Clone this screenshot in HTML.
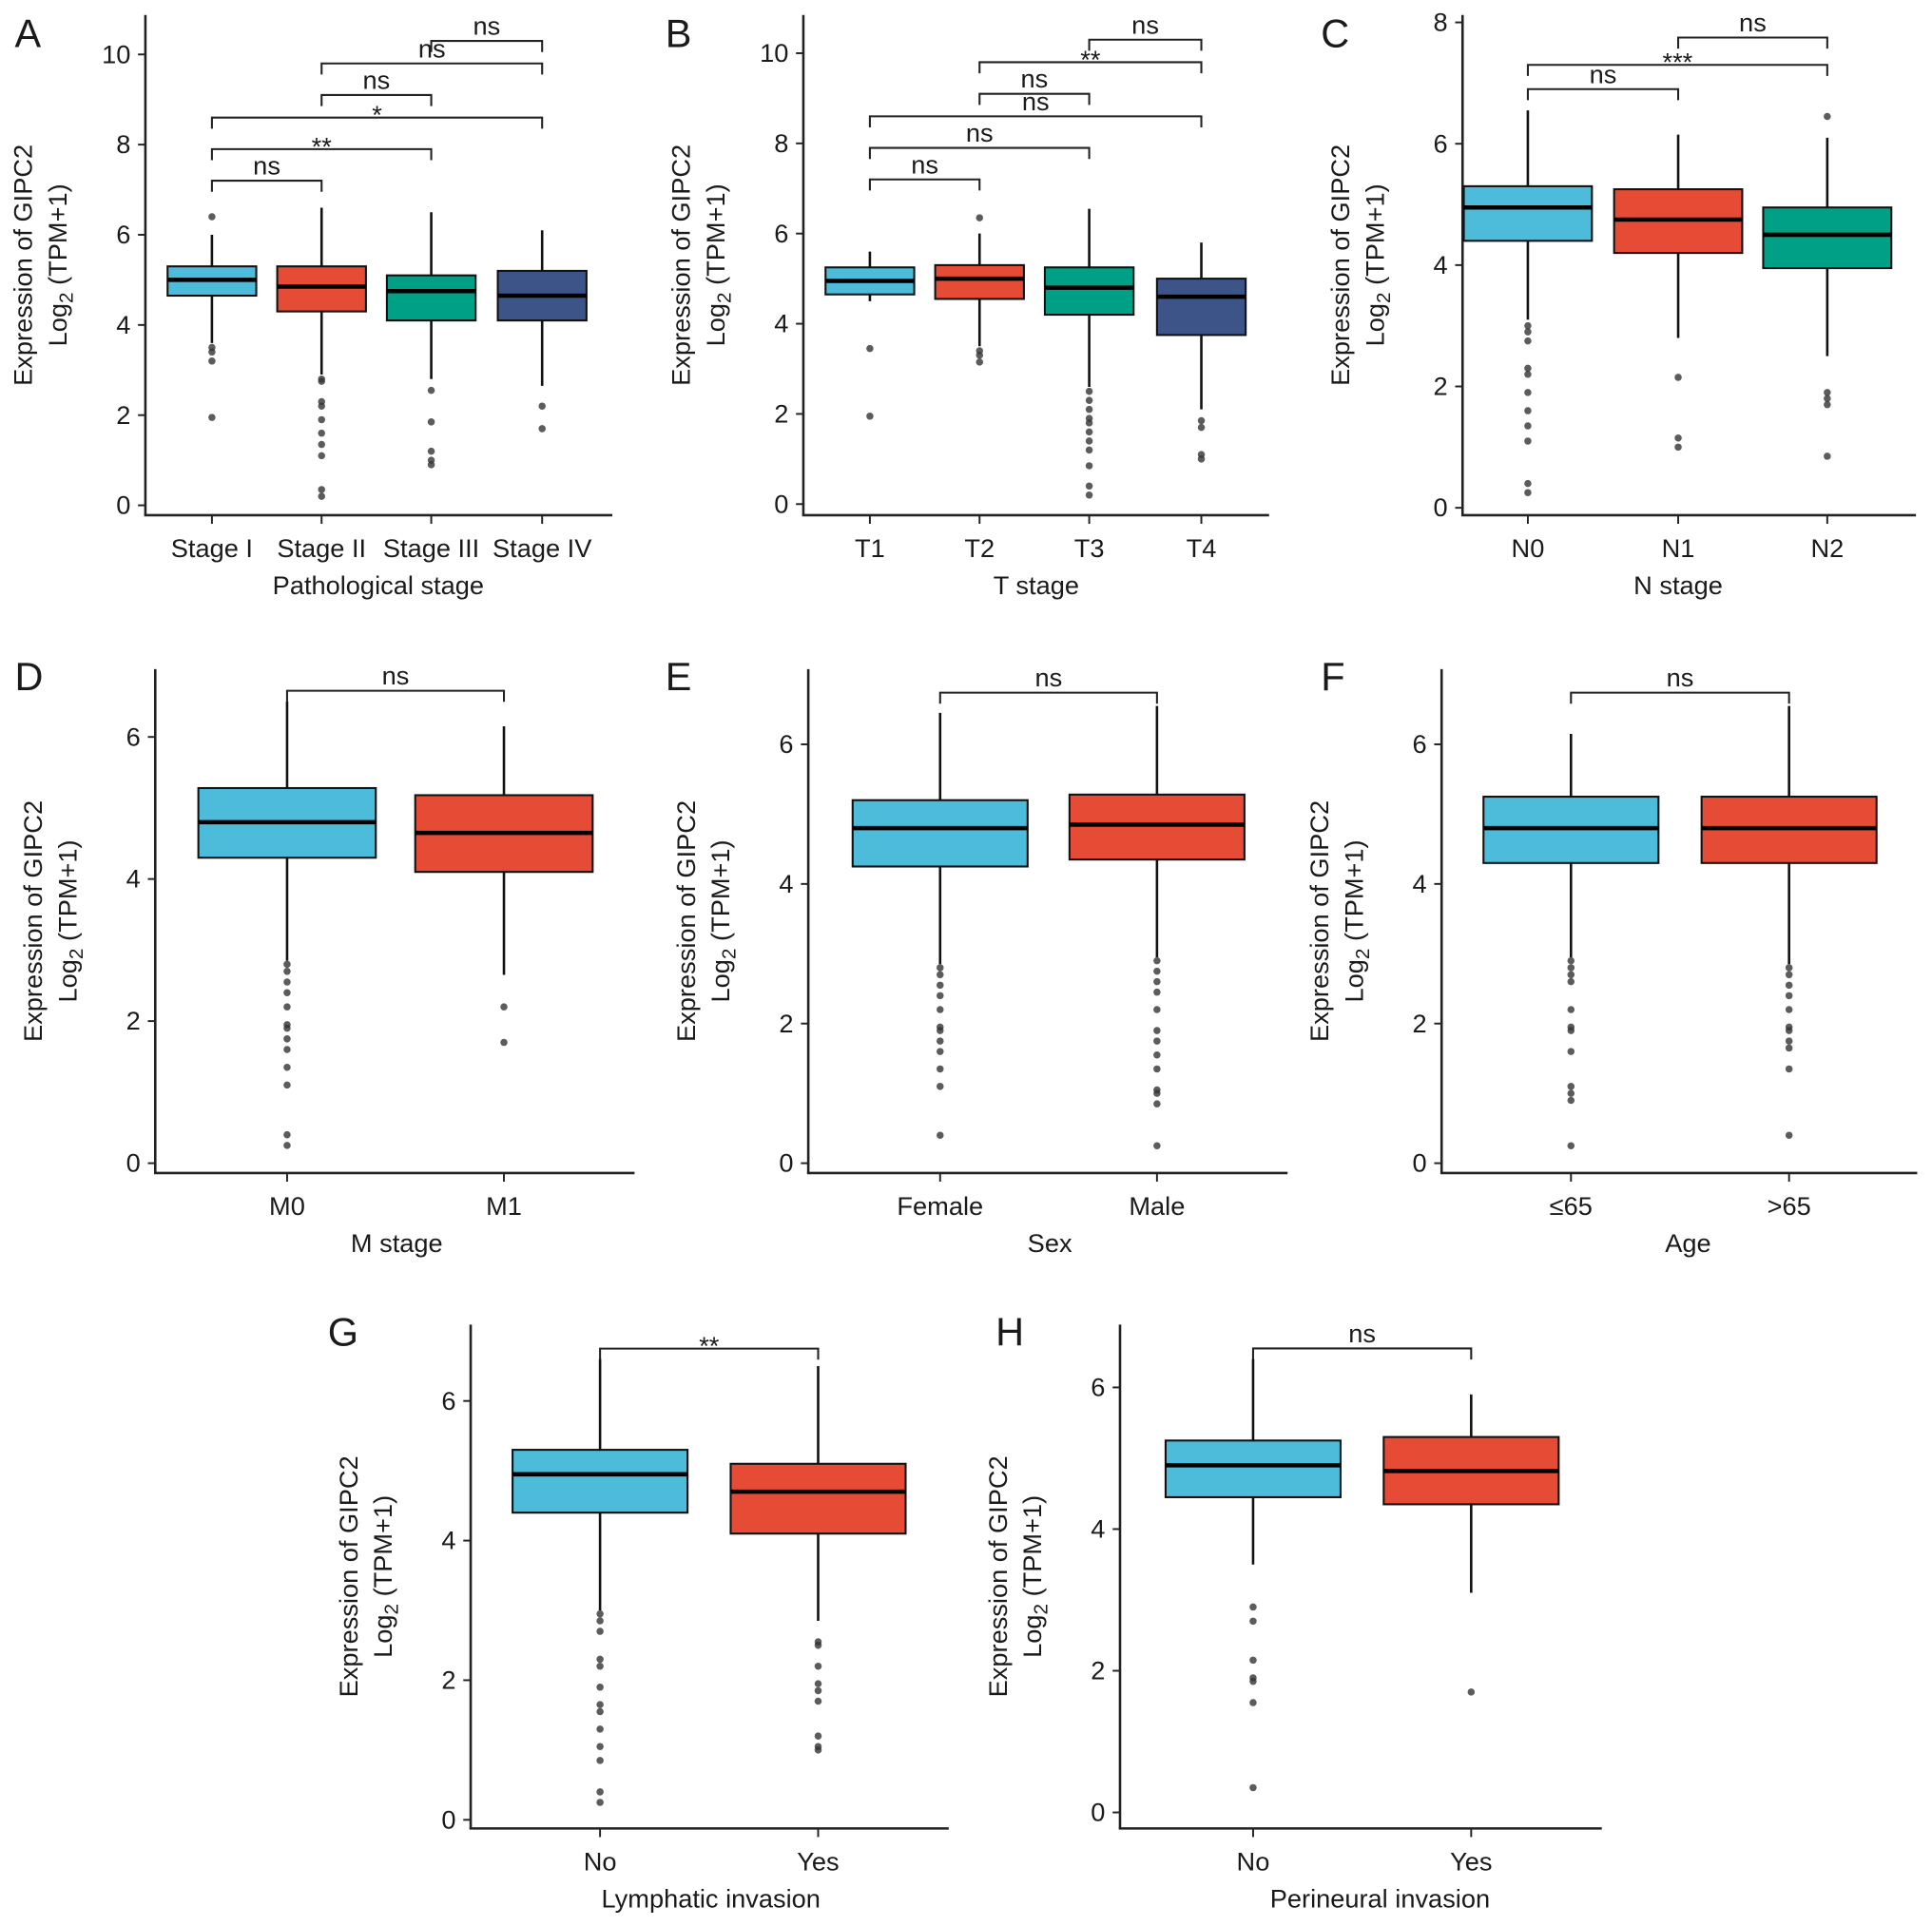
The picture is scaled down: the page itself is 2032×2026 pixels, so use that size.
<!DOCTYPE html>
<html><head><meta charset="utf-8"><style>
html,body{margin:0;padding:0;background:#fff}
svg{display:block}
text{font-family:"Liberation Sans",Arial,sans-serif;fill:#1a1a1a}
</style></head><body>
<svg id="fig" width="2032" height="2026" viewBox="0 0 1568 1563" xmlns="http://www.w3.org/2000/svg"></svg>
<script>
// ---- data ----
const catsA=["Stage I","Stage II","Stage III","Stage IV"];
const statsA=[[3.6,4.65,5.0,5.3,6.0],[2.9,4.3,4.85,5.3,6.6],[2.8,4.1,4.75,5.1,6.5],[2.65,4.1,4.65,5.2,6.1]];
const outA=[[6.4,3.5,3.4,3.2,1.95],[2.8,2.75,2.3,2.2,1.9,1.6,1.35,1.1,0.35,0.2],[2.55,1.85,1.2,1.0,0.9],[2.2,1.7]];
const brA=[[0,1,7.2,"ns"],[0,2,7.9,"**"],[0,3,8.6,"*"],[1,2,9.1,"ns"],[1,3,9.8,"ns"],[2,3,10.3,"ns"]];
const catsB=["T1","T2","T3","T4"];
const statsB=[[4.5,4.65,4.95,5.25,5.6],[3.5,4.55,5.0,5.3,6.0],[2.6,4.2,4.8,5.25,6.55],[2.1,3.75,4.6,5.0,5.8]];
const outB=[[3.45,1.95],[6.35,3.4,3.3,3.15],[2.5,2.3,2.1,1.9,1.8,1.6,1.4,1.2,0.85,0.4,0.2],[1.85,1.7,1.1,1.0]];
const brB=[[0,1,7.2,"ns"],[0,2,7.9,"ns"],[0,3,8.6,"ns"],[1,2,9.1,"ns"],[1,3,9.8,"**"],[2,3,10.3,"ns"]];
const catsC=["N0","N1","N2"];
const statsC=[[3.1,4.4,4.95,5.3,6.55],[2.8,4.2,4.75,5.25,6.15],[2.5,3.95,4.5,4.95,6.1]];
const outC=[[3.0,2.9,2.75,2.3,2.2,1.9,1.6,1.35,1.1,0.4,0.25],[2.15,1.15,1.0],[6.45,1.9,1.8,1.7,0.85]];
const brC=[[0,1,6.9,"ns"],[0,2,7.3,"***"],[1,2,7.75,"ns"]];
const catsD=["M0","M1"];
const statsD=[[2.85,4.3,4.8,5.28,6.5],[2.65,4.1,4.65,5.18,6.15]];
const outD=[[2.8,2.7,2.55,2.4,2.2,1.95,1.9,1.75,1.6,1.35,1.1,0.4,0.25],[2.2,1.7]];
const brD=[[0,1,6.65,"ns"]];
const catsE=["Female","Male"];
const statsE=[[2.85,4.25,4.8,5.2,6.45],[2.95,4.35,4.85,5.28,6.55]];
const outE=[[2.8,2.7,2.55,2.4,2.2,1.95,1.9,1.75,1.6,1.35,1.1,0.4],[2.9,2.75,2.6,2.45,2.2,1.9,1.75,1.55,1.35,1.05,1.0,0.85,0.25]];
const brE=[[0,1,6.74,"ns"]];
const catsF=["≤65",">65"];
const statsF=[[2.95,4.3,4.8,5.25,6.15],[2.85,4.3,4.8,5.25,6.55]];
const outF=[[2.9,2.8,2.7,2.6,2.2,1.95,1.9,1.6,1.1,1.0,0.9,0.25],[2.8,2.7,2.55,2.4,2.2,1.95,1.9,1.75,1.65,1.35,0.4]];
const brF=[[0,1,6.74,"ns"]];
const catsG=["No","Yes"];
const statsG=[[3.0,4.4,4.95,5.3,6.6],[2.85,4.1,4.7,5.1,6.5]];
const outG=[[2.95,2.85,2.7,2.3,2.2,1.9,1.65,1.55,1.3,1.05,0.85,0.4,0.25],[2.55,2.5,2.2,1.95,1.85,1.7,1.2,1.05,1.0]];
const brG=[[0,1,6.75,"**"]];
const catsH=["No","Yes"];
const statsH=[[3.5,4.45,4.9,5.25,6.4],[3.1,4.35,4.82,5.3,5.9]];
const outH=[[2.9,2.7,2.15,1.9,1.85,1.55,0.35],[1.7]];
const brH=[[0,1,6.55,"ns"]];
const ticks10=[0,2,4,6,8,10], ticks8=[0,2,4,6,8], ticks6=[0,2,4,6];
const COLORS=["#4cbcda","#e64b35","#00a087","#3c5488"];

const NS="http://www.w3.org/2000/svg";
const svg=document.getElementById('fig');
function mk(tag,attrs,parent,txt){const e=document.createElementNS(NS,tag);for(const k in attrs)e.setAttribute(k,attrs[k]);if(txt!==undefined)e.textContent=txt;(parent||svg).appendChild(e);return e;}

function panel(o){
  const g=mk('g',{});
  
  
  const y=v=>o.y0-(o.y0-o.yRef)*v/o.vRef;
  const x=i=>o.xs[i];
  const L=mk('text',{x:o.lx,y:o.ly,'font-size':32},g,o.letter);
  
  
  const ya=mk('line',{x1:o.ax,y1:o.top,x2:o.ax,y2:o.ay,stroke:'#222','stroke-width':2},g);
  
  
  const xa=mk('line',{x1:o.ax-1,y1:o.ay,x2:o.right,y2:o.ay,stroke:'#222','stroke-width':2},g);
  
  
  o.ticks.forEach(t=>{
    mk('line',{x1:o.ax-6,y1:y(t),x2:o.ax,y2:y(t),stroke:'#222','stroke-width':1.5},g);
    const tl=mk('text',{x:o.ax-12,y:y(t)+7,'font-size':21,'text-anchor':'end'},g,t);
    
    
  });
  const cy=(o.top+o.ay)/2;
  const t1=mk('text',{x:0,y:0,'font-size':21,'text-anchor':'middle',transform:`translate(${o.ax-92},${cy}) rotate(-90)`},g,'Expression of GIPC2');
  
  
  const t2=mk('text',{x:0,y:0,'font-size':21,'text-anchor':'middle',transform:`translate(${o.ax-64},${cy}) rotate(-90)`},g);
  
  
  mk('tspan',{},t2,'Log');
  mk('tspan',{'font-size':16,dy:5},t2,'2');
  mk('tspan',{dy:-5},t2,' (TPM+1)');
  const xt=mk('text',{x:o.xtx||(o.ax+o.right)/2,y:o.ay+64,'font-size':21,'text-anchor':'middle'},g,o.xtitle);
  
  
  o.cats.forEach((c,i)=>{
    const s=o.stats[i], cx=x(i), w=o.bw;
    mk('line',{x1:cx,y1:o.ay,x2:cx,y2:o.ay+7,stroke:'#222','stroke-width':1.5},g);
    const cl=mk('text',{x:cx,y:o.ay+34,'font-size':21,'text-anchor':'middle'},g,c);
    
    
    const wk=mk('line',{x1:cx,y1:y(s[0]),x2:cx,y2:y(s[4]),stroke:'#111','stroke-width':2},g);
    
    
    const b=mk('rect',{x:cx-w/2,y:y(s[3]),width:w,height:y(s[1])-y(s[3]),fill:COLORS[i],stroke:'#111','stroke-width':1.6},g);
    
    
    const m=mk('line',{x1:cx-w/2,y1:y(s[2]),x2:cx+w/2,y2:y(s[2]),stroke:'#000','stroke-width':3.5},g);
    
    
    o.out[i].forEach(v=>{
      const p=mk('circle',{cx:cx,cy:y(v),r:2.9,fill:'#333','fill-opacity':0.8},g);
      
      
    });
  });
  o.br.forEach(br=>{
    const x1=x(br[0]),x2=x(br[1]),yy=y(br[2]),d=9;
    const p=mk('path',{d:`M${x1},${yy+d}V${yy}H${x2}V${yy+d}`,fill:'none',stroke:'#222','stroke-width':1.6},g);
    
    
    const st=br[3].indexOf('*')>=0;
    const lt=mk('text',{x:(x1+x2)/2,y:yy-(st?-5:5),'font-size':21,'text-anchor':'middle'},g,br[3]);
    
    
  });
}
panel({letter:'A',lx:12,ly:38,ax:118,ay:418,top:12,right:497,y0:410,yRef:44,vRef:10,ticks:ticks10,xs:[172,261,350,440],bw:72,cats:catsA,stats:statsA,out:outA,br:brA,xtitle:'Pathological stage',xtx:307});
panel({letter:'B',lx:540,ly:38,ax:652,ay:418,top:12,right:1030,y0:409,yRef:43,vRef:10,ticks:ticks10,xs:[706,795,884,975],bw:72,cats:catsB,stats:statsB,out:outB,br:brB,xtitle:'T stage'});
panel({letter:'C',lx:1072,ly:38,ax:1187,ay:418,top:12,right:1555,y0:412,yRef:18,vRef:8,ticks:ticks8,xs:[1240,1362,1483],bw:104,cats:catsC,stats:statsC,out:outC,br:brC,xtitle:'N stage',xtx:1362});
panel({letter:'D',lx:12,ly:560,ax:126,ay:952,top:543,right:515,y0:944,yRef:598,vRef:6,ticks:ticks6,xs:[233,409],bw:144,cats:catsD,stats:statsD,out:outD,br:brD,xtitle:'M stage',xtx:322});
panel({letter:'E',lx:540,ly:560,ax:656,ay:952,top:543,right:1045,y0:944,yRef:604,vRef:6,ticks:ticks6,xs:[763,939],bw:142,cats:catsE,stats:statsE,out:outE,br:brE,xtitle:'Sex',xtx:852});
panel({letter:'F',lx:1072,ly:560,ax:1170,ay:952,top:543,right:1556,y0:944,yRef:604,vRef:6,ticks:ticks6,xs:[1275,1452],bw:142,cats:catsF,stats:statsF,out:outF,br:brF,xtitle:'Age',xtx:1370});
panel({letter:'G',lx:266,ly:1092,ax:382,ay:1484,top:1075,right:770,y0:1477,yRef:1137,vRef:6,ticks:ticks6,xs:[487,664],bw:142,cats:catsG,stats:statsG,out:outG,br:brG,xtitle:'Lymphatic invasion',xtx:577});
panel({letter:'H',lx:808,ly:1092,ax:909,ay:1484,top:1075,right:1300,y0:1471,yRef:1126,vRef:6,ticks:ticks6,xs:[1017,1194],bw:142,cats:catsH,stats:statsH,out:outH,br:brH,xtitle:'Perineural invasion',xtx:1120});
</script>
</body></html>
